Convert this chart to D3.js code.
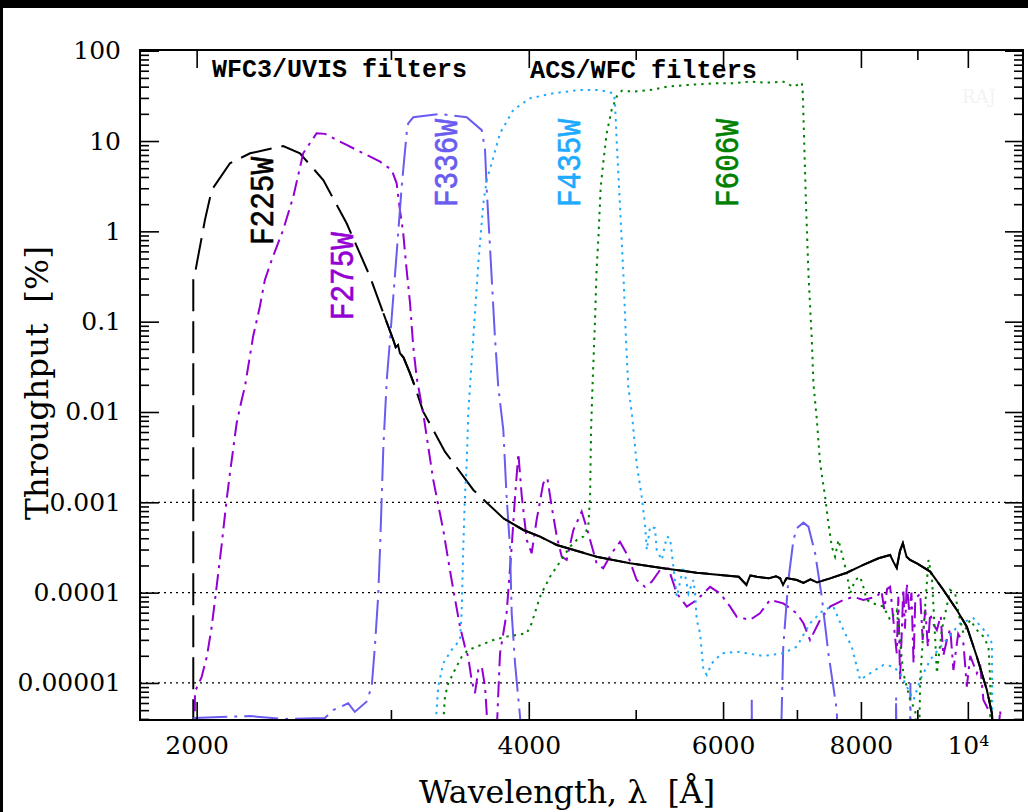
<!DOCTYPE html>
<meta charset="utf-8">
<style>
  body { margin: 0; background: #fff; }
  svg { display: block; font-family: "DejaVu Serif", serif; }
  .tick text { font-family: "DejaVu Serif", serif; font-size: 25px; fill: #000; }
  .tick line { stroke: #000; stroke-width: 1.6px; }
</style>
<body>
<svg id="chart" width="1028" height="812"></svg>
<script src="https://cdn.jsdelivr.net/npm/d3@7"></script>
<script>
// throughput curves, [wavelength in A, throughput in %]
var f225w = [[1986,1e-6],[1986,0.29],[1993,0.343],[2035,1.34],[2064,2.87],[2144,5.67],[2236,7.31],
  [2396,8.81],[2481,7.31],[2605,3.70],[2735,1.23],[2872,0.315],[2953,0.124],[3015,0.0627],[3030,0.052],
  [3045,0.055],[3057,0.0447],[3080,0.040],[3100,0.033],[3122,0.0268],[3150,0.020],[3209,0.0101],
  [3358,0.00364],[3563,0.00137],[3793,6.66e-4],[3955,4.94e-4],[4095,4.17e-4],[4241,3.37e-4],
  [4608,2.50e-4],[4941,2.11e-4],[5297,1.86e-4],[5679,1.66e-4],[5963,1.57e-4],[6200,1.50e-4],
  [6300,1.22e-4],[6350,1.55e-4],[6438,1.50e-4],[6600,1.44e-4],[6700,1.52e-4],[6759,1.44e-4],
  [6800,1.22e-4],[6850,1.45e-4],[7000,1.38e-4],[7096,1.28e-4],[7200,1.40e-4],[7300,1.30e-4],
  [7502,1.44e-4],[7767,1.66e-4],[8040,2.03e-4],[8300,2.4e-4],[8503,2.61e-4],[8560,2.2e-4],
  [8621,1.88e-4],[8680,2.9e-4],[8732,3.52e-4],[8800,2.5e-4],[8865,2.30e-4],[9000,2.1e-4],
  [9244,1.71e-4],[9503,1.07e-4],[9773,6.43e-5],[9979,4.20e-5],[10190,1.95e-5],[10405,8.37e-6],
  [10515,4.62e-6],[10600,1e-6]];

var f275w = [[1990,1e-6],[1993,8.0e-6],[2021,1.17e-5],[2043,1.95e-5],[2064,4.2e-5],[2085,1.16e-4],
  [2108,3.52e-4],[2129,1.06e-3],[2144,2.10e-3],[2174,7.5e-3],[2197,0.0136],[2212,0.0191],[2250,0.0682],
  [2282,0.147],[2306,0.29],[2339,0.482],[2396,1.04],[2447,2.42],[2498,7.31],[2569,12.2],[2614,12.0],
  [2735,9.04],[2933,5.90],[3005,4.78],[3036,3.40],[3057,1.72],[3078,0.95],[3100,0.373],[3122,0.160],
  [3143,0.0528],[3166,0.0238],[3209,0.00968],[3277,0.00177],[3346,4.94e-4],[3405,1.38e-4],
  [3465,4.2e-5],[3501,2.52e-5],[3525,1.95e-5],[3550,1.08e-5],[3575,7.7e-6],[3600,1.39e-5],
  [3626,1.52e-5],[3651,9.1e-6],[3693,1e-6],[3727,1e-6],[3767,2.13e-5],[3819,5.9e-5],[3860,3.23e-4],
  [3887,1.16e-3],[3914,3.49e-3],[3942,1.16e-3],[3983,3.83e-4],[4024,2.73e-4],[4066,6.38e-4],
  [4123,1.63e-3],[4158,1.85e-3],[4196,8.95e-4],[4241,4.17e-4],[4285,2.5e-4],[4329,2.30e-4],
  [4390,4.94e-4],[4467,7.88e-4],[4529,4.54e-4],[4608,2.11e-4],[4672,1.86e-4],[4755,2.73e-4],
  [4839,3.66e-4],[4923,2.5e-4],[5010,1.38e-4],[5097,1.16e-4],[5170,1.32e-4],[5260,1.78e-4],
  [5353,1.86e-4],[5448,9.8e-5],[5562,7.0e-5],[5679,8.3e-5],[5840,1.16e-4],[5963,9.8e-5],
  [6089,7.0e-5],[6174,5.4e-5],[6346,4.99e-5],[6480,5.9e-5],[6618,8.3e-5],[6803,7.6e-5],[6998,5.9e-5],
  [7096,4.58e-5],[7194,2.99e-5],[7347,4.99e-5],[7502,7.0e-5],[7713,8.3e-5],[7876,9.0e-5],
  [8040,8.3e-5],[8269,9.0e-5],[8350,1.05e-4],[8400,6.5e-5],[8450,1.1e-4],[8503,1.16e-4],[8560,5e-5],
  [8621,2.13e-5],[8650,9e-5],[8681,1.08e-5],[8740,1.1e-4],[8770,4e-5],[8805,1.27e-4],[8850,6e-5],
  [8890,1.0e-4],[8929,1.65e-5],[8960,8e-5],[9000,9.0e-5],[9053,9.8e-5],[9100,3e-5],[9150,6.5e-5],
  [9200,2.5e-5],[9244,5.9e-5],[9300,4.5e-5],[9374,3.86e-5],[9450,5.5e-5],[9500,2e-5],[9572,2.99e-5],
  [9640,4e-5],[9703,1.39e-5],[9800,3.5e-5],[9908,2.75e-5],[9979,9.1e-6],[10050,2e-5],[10190,1.28e-5],
  [10260,1.6e-5],[10330,6.5e-6],[10476,4.62e-6],[10590,1e-6],[10698,5.0e-6],[10770,1e-6]];

var f336w = [[1986,4.1e-6],[2236,4.3e-6],[2400,4.0e-6],[2614,4.1e-6],[2659,5.0e-6],[2744,5.96e-6],
  [2782,4.78e-6],[2851,6.2e-6],[2882,9.1e-6],[2901,2.52e-5],[2921,9.0e-5],[2933,3.23e-4],
  [2953,4.13e-3],[2974,0.0226],[2994,0.0627],[3036,0.571],[3068,3.12],[3100,12.2],[3110,15.7],
  [3143,18.3],[3323,19.9],[3514,18.3],[3626,13.2],[3651,7.95],[3664,2.87],[3689,0.676],[3727,0.0682],
  [3753,0.0191],[3793,6.3e-3],[3819,1.16e-3],[3846,3.23e-4],[3860,5.9e-5],[3887,1.65e-5],
  [3928,4.2e-6],[3960,1e-6],[6370,1e-6],[6370,6.5e-6],[6375,1e-6],[6760,1e-6],[6803,2.52e-5],
  [6876,1.38e-4],[6949,3.83e-4],[6998,5.16e-4],[7096,5.96e-4],[7170,5.38e-4],[7271,2.73e-4],
  [7372,9.0e-5],[7475,2.13e-5],[7607,5.0e-6],[7633,1e-6],[8600,1e-6],[8610,7e-6],[8620,1e-6],
  [8860,1e-6],[8870,1.0e-5],[8880,1e-6]];

var f435w = [[3270,1e-6],[3311,9.1e-6],[3346,1.65e-5],[3405,2.32e-5],[3465,2.99e-5],[3477,5.9e-5],
  [3489,3.23e-4],[3501,1.16e-3],[3514,2.70e-3],[3525,9.68e-3],[3538,0.0191],[3563,0.0682],[3600,0.443],
  [3638,2.05],[3664,3.70],[3702,5.67],[3767,12.2],[3873,22.1],[4010,29.7],[4210,33.8],[4451,36.7],
  [4640,36.7],[4771,33.8],[4787,28.5],[4805,10.3],[4839,1.87],[4873,0.343],[4900,0.0627],[4923,0.0191],
  [4960,9.68e-3],[5010,2.70e-3],[5063,1.16e-3],[5097,5.86e-4],[5117,2.97e-4],[5152,5.38e-4],
  [5206,5.16e-4],[5224,2.97e-4],[5280,2.30e-4],[5335,4.17e-4],[5372,4.0e-4],[5409,1.94e-4],
  [5448,9.0e-5],[5524,1.94e-4],[5582,9.8e-5],[5640,1.38e-4],[5660,9.8e-5],[5679,4.99e-5],
  [5719,3.55e-5],[5759,1.39e-5],[5799,1.23e-5],[5861,1.65e-5],[5984,2.13e-5],[6174,2.22e-5],
  [6525,1.99e-5],[6803,2.13e-5],[6998,2.52e-5],[7194,4.58e-5],[7397,6.43e-5],[7553,7.0e-5],
  [7713,3.86e-5],[7849,2.52e-5],[7987,1.08e-5],[8154,1.28e-5],[8385,1.58e-5],[8561,1.52e-5],
  [8681,1.28e-5],[8805,9.1e-6],[8929,6.5e-6],[9053,1.08e-5],[9244,1.80e-5],[9503,2.75e-5],
  [9841,4.58e-5],[10118,5.2e-5],[10405,3.55e-5],[10515,2.75e-5],[10520,1.08e-5],[10525,1e-6]];

var f606w = [[3323,1e-6],[3358,7.05e-6],[3381,9.9e-6],[3428,1.39e-5],[3477,1.95e-5],[3525,2.32e-5],
  [3588,2.52e-5],[3715,2.99e-5],[3819,3.26e-5],[3983,3.55e-5],[4024,4.58e-5],[4095,9.0e-5],
  [4123,1.07e-4],[4181,1.50e-4],[4241,1.94e-4],[4299,2.5e-4],[4360,3.23e-4],[4421,3.83e-4],
  [4483,4.17e-4],[4529,5.38e-4],[4546,1.16e-3],[4555,6.3e-3],[4571,0.0226],[4593,0.104],[4608,0.373],
  [4626,0.873],[4648,3.12],[4672,5.67],[4706,12.2],[4755,22.1],[4805,31.0],[4857,36.1],[4977,35.2],
  [5152,36.7],[5335,39.9],[5562,41.7],[5922,43.6],[6132,43.6],[6346,45.4],[6572,44.3],[6803,45.4],
  [6949,39.9],[7072,44.3],[7086,33.8],[7106,10.3],[7135,1.87],[7170,0.343],[7221,0.0627],
  [7245,0.0208],[7297,8.2e-3],[7347,2.70e-3],[7424,1.16e-3],[7475,5.86e-4],[7528,3.23e-4],
  [7580,2.5e-4],[7633,3.83e-4],[7688,2.73e-4],[7767,1.64e-4],[7822,9.8e-5],[7903,1.38e-4],
  [7987,1.50e-4],[8040,1.16e-4],[8098,8.3e-5],[8210,7.6e-5],[8385,7.0e-5],[8503,4.99e-5],
  [8621,6.43e-5],[8741,1.28e-5],[8865,6.5e-6],[8960,5.0e-6],[9023,1e-6],[9053,1.08e-5],[9115,3.86e-5],
  [9212,2.30e-4],[9277,1.50e-4],[9342,2.99e-5],[9374,1.28e-5],[9471,3.86e-5],[9638,1.07e-4],
  [9739,9.8e-5],[9806,5.9e-5],[9908,3.55e-5],[10048,4.99e-5],[10190,3.86e-5],[10330,3.26e-5],
  [10440,2.52e-5],[10476,1.08e-5],[10515,1e-6]];

// axis ticks
var majorWave = [2000, 4000, 6000, 8000, 10000];
var minorWave = [3000, 5000, 7000, 9000];
var waveLabels = ["2000", "4000", "6000", "8000", "10\u2074"];
var decades = [1e-5, 1e-4, 1e-3, 0.01, 0.1, 1, 10, 100];
var decadeLabels = ["0.00001", "0.0001", "0.001", "0.01", "0.1", "1", "10", "100"];
var gridLevels = [1e-3, 1e-4, 1e-5];

var filterNames = ["F225W", "F275W", "F336W", "F435W", "F606W"];

var m = {l: 140, r: 1023, t: 50, b: 720};
var svg = d3.select("#chart");

svg.append("rect").attr("width", 1028).attr("height", 812).attr("fill", "#fff");
svg.append("rect").attr("width", 1028).attr("height", 8).attr("fill", "#000");
svg.append("rect").attr("width", 3).attr("height", 812).attr("fill", "#000");

var x = d3.scaleLog().domain([1777, 11220]).range([m.l, m.r]);
var y = d3.scaleLog().domain([3.89e-6, 101.8]).range([m.b, m.t]);

svg.append("clipPath").attr("id", "plot")
  .append("rect").attr("x", m.l).attr("y", m.t).attr("width", m.r - m.l).attr("height", m.b - m.t);

// faint watermark
svg.append("text").attr("x", 962).attr("y", 103).text("RAJ")
  .style("font-size", "18px").attr("fill", "#f3f3f3");

// dotted grid lines
svg.selectAll(".grid").data(gridLevels).enter().append("line")
  .attr("x1", m.l).attr("x2", m.r)
  .attr("y1", d => y(d)).attr("y2", d => y(d))
  .attr("stroke", "#000").attr("stroke-width", 1.3).attr("stroke-dasharray", "2 4");

var line = d3.line().x(d => x(d[0])).y(d => y(d[1]));

var styles = [
  {data: f225w, color: "#000000", dash: "32 10"},
  {data: f275w, color: "#9400d3", dash: "16 6 3 6"},
  {data: f336w, color: "#6a5cf0", dash: "34 7 3 7"},
  {data: f435w, color: "#1eaaff", dash: "2.4 5"},
  {data: f606w, color: "#008000", dash: "2.4 5"}
];

var curves = svg.append("g").attr("clip-path", "url(#plot)");
styles.forEach(function(s) {
  curves.append("path").datum(s.data)
    .attr("d", line)
    .attr("fill", "none")
    .attr("stroke", s.color)
    .attr("stroke-width", 2)
    .attr("stroke-dasharray", s.dash);
});

// where the F225W trace is dense it prints solid
var f225wSolid = [[2950, 3150], [3790, 10600]];
f225wSolid.forEach(function(r) {
  curves.append("path")
    .datum(f225w.filter(d => d[0] >= r[0] && d[0] <= r[1]))
    .attr("d", line)
    .attr("fill", "none")
    .attr("stroke", "#000")
    .attr("stroke-width", 2);
});

// axes, ticks pointing inwards
function styleAxis(g) {
  g.select(".domain").remove();
}
svg.append("g").attr("transform", "translate(0," + m.b + ")")
  .call(d3.axisBottom(x).tickValues(majorWave).tickSize(-18).tickPadding(16)
    .tickFormat((d, i) => waveLabels[i]))
  .call(styleAxis);
svg.append("g").attr("transform", "translate(0," + m.b + ")")
  .call(d3.axisBottom(x).tickValues(minorWave).tickSize(-10).tickFormat(""))
  .call(styleAxis);
svg.append("g").attr("transform", "translate(0," + m.t + ")")
  .call(d3.axisTop(x).tickValues(majorWave).tickSize(-18).tickFormat(""))
  .call(styleAxis);
svg.append("g").attr("transform", "translate(0," + m.t + ")")
  .call(d3.axisTop(x).tickValues(minorWave).tickSize(-10).tickFormat(""))
  .call(styleAxis);

var minorLevels = [];
d3.range(-6, 2).forEach(function(e) {
  d3.range(2, 10).forEach(function(k) {
    var v = k * Math.pow(10, e);
    if (v > y.domain()[0] && v < y.domain()[1]) minorLevels.push(v);
  });
});

svg.append("g").attr("transform", "translate(" + m.l + ",0)")
  .call(d3.axisLeft(y).tickValues(decades).tickSize(-19).tickPadding(19)
    .tickFormat((d, i) => decadeLabels[i]))
  .call(styleAxis);
svg.append("g").attr("transform", "translate(" + m.l + ",0)")
  .call(d3.axisLeft(y).tickValues(minorLevels).tickSize(-9).tickFormat(""))
  .call(styleAxis);
svg.append("g").attr("transform", "translate(" + m.r + ",0)")
  .call(d3.axisRight(y).tickValues(decades).tickSize(-18).tickFormat(""))
  .call(styleAxis);
svg.append("g").attr("transform", "translate(" + m.r + ",0)")
  .call(d3.axisRight(y).tickValues(minorLevels).tickSize(-9).tickFormat(""))
  .call(styleAxis);

svg.append("rect").attr("x", m.l).attr("y", m.t)
  .attr("width", m.r - m.l).attr("height", m.b - m.t)
  .attr("fill", "none").attr("stroke", "#000").attr("stroke-width", 2);

// axis titles
svg.append("text").attr("x", 567).attr("y", 803)
  .attr("text-anchor", "middle").style("white-space", "pre")
  .attr("textLength", 296).attr("lengthAdjust", "spacingAndGlyphs")
  .style("font-size", "31px")
  .text("Wavelength, \u03bb  [\u00c5]");

svg.append("text").attr("transform", "translate(48,383) rotate(-90)")
  .attr("text-anchor", "middle").style("white-space", "pre")
  .attr("textLength", 274).attr("lengthAdjust", "spacingAndGlyphs")
  .style("font-size", "31px")
  .text("Throughput  [%]");

// instrument headings
svg.append("text").attr("x", 212).attr("y", 77).text("WFC3/UVIS filters")
  .style("font-family", "'Liberation Mono', monospace").style("font-weight", "bold")
  .style("font-size", "26px").attr("textLength", 255).attr("lengthAdjust", "spacingAndGlyphs");
svg.append("text").attr("x", 530).attr("y", 78).text("ACS/WFC filters")
  .style("font-family", "'Liberation Mono', monospace").style("font-weight", "bold")
  .style("font-size", "26px").attr("textLength", 227).attr("lengthAdjust", "spacingAndGlyphs");

// filter names, rotated, placed at [wavelength, throughput]
var labelAt = [[2346, 0.706], [2771, 0.104], [3443, 1.86], [4451, 1.86], [6191, 1.86]];
filterNames.forEach(function(name, i) {
  var p = labelAt[i];
  svg.append("text")
    .attr("transform", "translate(" + x(p[0]) + "," + y(p[1]) + ") rotate(-90)")
    .style("font-family", "'Liberation Mono', monospace")
    .style("font-size", "33px").style("stroke", styles[i].color).style("stroke-width", "0.6px")
    .attr("textLength", 88).attr("lengthAdjust", "spacingAndGlyphs")
    .attr("fill", styles[i].color)
    .text(name);
});
</script>
